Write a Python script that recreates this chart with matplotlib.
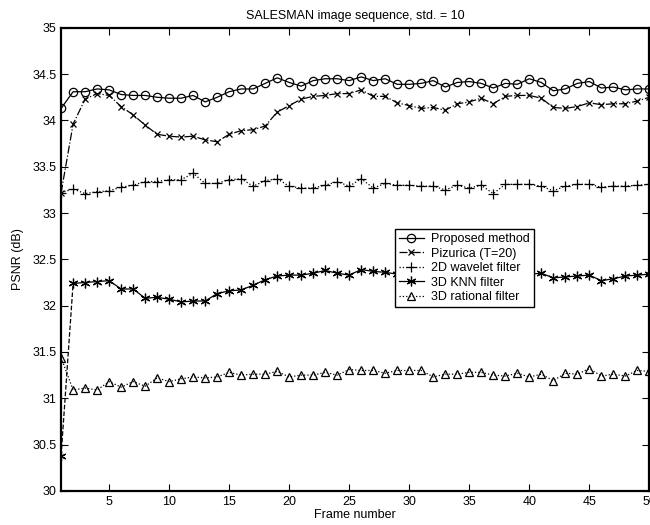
import matplotlib
matplotlib.use('Agg')
import matplotlib.pyplot as plt
import numpy as np

plt.rcParams['font.family'] = ['Liberation Sans', 'DejaVu Sans']

# PSNR per frame for each denoising method
frames = np.arange(1, 51)

proposed = [34.13, 34.31, 34.31, 34.34, 34.33, 34.28, 34.27, 34.27, 34.25, 34.24,
            34.24, 34.27, 34.20, 34.25, 34.31, 34.34, 34.34, 34.40, 34.46, 34.41,
            34.37, 34.43, 34.45, 34.45, 34.43, 34.47, 34.43, 34.45, 34.39, 34.39,
            34.40, 34.43, 34.36, 34.41, 34.42, 34.40, 34.35, 34.40, 34.39, 34.45,
            34.41, 34.32, 34.34, 34.40, 34.42, 34.35, 34.36, 34.33, 34.34, 34.34]

pizurica = [33.22, 33.96, 34.23, 34.29, 34.27, 34.15, 34.06, 33.95, 33.85, 33.83,
            33.82, 33.83, 33.79, 33.77, 33.85, 33.89, 33.90, 33.94, 34.09, 34.16,
            34.23, 34.26, 34.27, 34.29, 34.29, 34.33, 34.26, 34.26, 34.19, 34.16,
            34.13, 34.14, 34.11, 34.18, 34.20, 34.24, 34.18, 34.26, 34.27, 34.27,
            34.24, 34.14, 34.13, 34.15, 34.19, 34.17, 34.18, 34.18, 34.21, 34.25]

wavelet2d = [33.22, 33.26, 33.21, 33.23, 33.24, 33.28, 33.30, 33.34, 33.34, 33.36,
             33.36, 33.43, 33.32, 33.32, 33.36, 33.37, 33.29, 33.35, 33.37, 33.29,
             33.27, 33.27, 33.30, 33.34, 33.29, 33.37, 33.27, 33.32, 33.30, 33.30,
             33.29, 33.29, 33.25, 33.30, 33.27, 33.30, 33.21, 33.31, 33.31, 33.31,
             33.29, 33.24, 33.29, 33.31, 33.31, 33.28, 33.29, 33.29, 33.30, 33.31]

knn3d = [30.38, 32.24, 32.25, 32.26, 32.27, 32.18, 32.18, 32.08, 32.09, 32.07,
         32.04, 32.05, 32.05, 32.13, 32.16, 32.17, 32.22, 32.28, 32.32, 32.33,
         32.33, 32.35, 32.38, 32.35, 32.33, 32.39, 32.37, 32.36, 32.34, 32.35,
         32.37, 32.35, 32.33, 32.35, 32.36, 32.32, 32.30, 32.33, 32.32, 32.34,
         32.35, 32.30, 32.31, 32.32, 32.33, 32.27, 32.29, 32.32, 32.33, 32.34]

rational3d = [31.44, 31.09, 31.11, 31.09, 31.18, 31.12, 31.18, 31.13, 31.22, 31.18,
              31.21, 31.23, 31.22, 31.23, 31.28, 31.25, 31.26, 31.26, 31.29, 31.23,
              31.25, 31.25, 31.28, 31.25, 31.31, 31.30, 31.30, 31.27, 31.30, 31.30,
              31.30, 31.23, 31.26, 31.26, 31.28, 31.28, 31.25, 31.24, 31.27, 31.23,
              31.26, 31.19, 31.27, 31.26, 31.32, 31.24, 31.26, 31.24, 31.30, 31.29]

labels = ['Proposed method', 'Pizurica (T=20)', '2D wavelet filter',
          '3D KNN filter', '3D rational filter']

fig = plt.figure(figsize=(6.5, 5.25), dpi=100)
ax = fig.add_axes([0.094, 0.065, 0.905, 0.882])

lw = 0.9
star = (6, 2, 0)  # line asterisk
ax.plot(frames, proposed, '-o', color='k', lw=lw, ms=6, mfc='none', mew=0.9, label=labels[0])
ax.plot(frames, pizurica, '-.x', color='k', lw=lw, ms=5, mew=0.9, label=labels[1])
ax.plot(frames, wavelet2d, ':+', color='k', lw=lw, ms=7, mew=0.9, label=labels[2])
# first KNN segment is drawn dashed, the rest solid
ax.plot(frames[:2], knn3d[:2], '--', color='k', lw=lw)
ax.plot(frames[1:], knn3d[1:], '-', marker=star, color='k', lw=lw, ms=7, mew=0.9)
ax.plot(frames[:1], knn3d[:1], ls='none', marker=star, color='k', ms=7, mew=0.9)
ax.plot([], [], '-', marker=star, color='k', lw=lw, ms=7, mew=0.9, label=labels[3])
ax.plot(frames, rational3d, ':^', color='k', lw=lw, ms=6, mfc='none', mew=0.9, label=labels[4])

ax.set_xlim(1, 50)
ax.set_ylim(30, 35)
ax.set_xticks(np.arange(5, 51, 5))
ax.set_yticks(np.arange(30, 35.01, 0.5))
ax.set_yticklabels(['30', '30.5', '31', '31.5', '32', '32.5', '33', '33.5', '34', '34.5', '35'])
ax.tick_params(direction='in', top=True, right=True, labelsize=9, length=5, width=0.8)
for sp in ax.spines.values():
    sp.set_linewidth(1.6)

ax.set_title('SALESMAN image sequence, std. = 10', fontsize=9, pad=6)
ax.set_xlabel('Frame number', fontsize=9, labelpad=1)
ax.set_ylabel('PSNR (dB)', fontsize=9, labelpad=6)

leg = ax.legend(loc='upper left', bbox_to_anchor=(0.568, 0.565), fontsize=9,
                fancybox=False, framealpha=1, edgecolor='k', borderaxespad=0,
                handlelength=2.0, handletextpad=0.6, labelspacing=0.2, borderpad=0.3)
leg.get_frame().set_linewidth(1.0)

fig.savefig('out.png', dpi=100)
